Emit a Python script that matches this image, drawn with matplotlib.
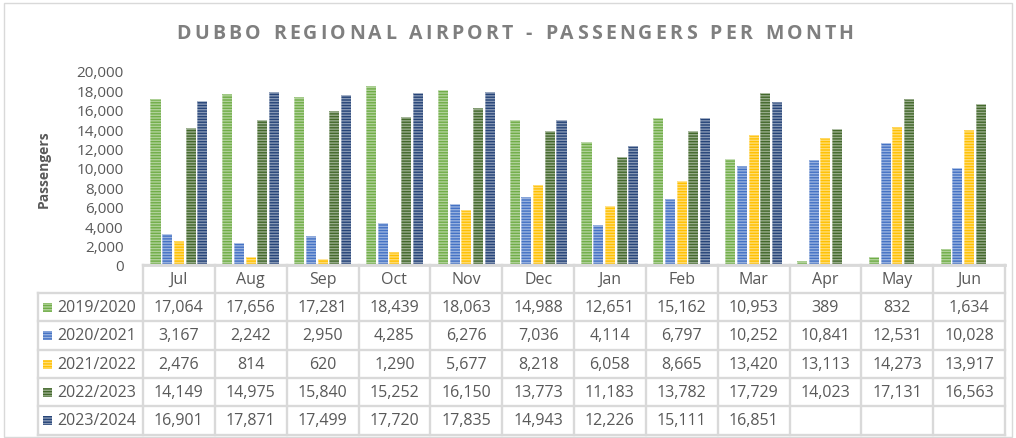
import numpy as np
import matplotlib
matplotlib.use("Agg")
import matplotlib.pyplot as plt
from matplotlib.lines import Line2D
from matplotlib.patches import Rectangle

months = ["Jul", "Aug", "Sep", "Oct", "Nov", "Dec", "Jan", "Feb", "Mar", "Apr", "May", "Jun"]
series_names = ["2019/2020", "2020/2021", "2021/2022", "2022/2023", "2023/2024"]
s2019 = [17064, 17656, 17281, 18439, 18063, 14988, 12651, 15162, 10953, 389, 832, 1634]
s2020 = [3167, 2242, 2950, 4285, 6276, 7036, 4114, 6797, 10252, 10841, 12531, 10028]
s2021 = [2476, 814, 620, 1290, 5677, 8218, 6058, 8665, 13420, 13113, 14273, 13917]
s2022 = [14149, 14975, 15840, 15252, 16150, 13773, 11183, 13782, 17729, 14023, 17131, 16563]
s2023 = [16901, 17871, 17499, 17720, 17835, 14943, 12226, 15111, 16851, None, None, None]
series = [s2019, s2020, s2021, s2022, s2023]
colors = ["#70AD47", "#4472C4", "#FFC000", "#43682B", "#264478"]
yticks = [0, 2000, 4000, 6000, 8000, 10000, 12000, 14000, 16000, 18000, 20000]

W, H = 1016, 439
plt.rcParams['hatch.linewidth'] = 1.0
fig = plt.figure(figsize=(W / 100, H / 100), dpi=100)
fig.patch.set_facecolor("white")

def fx(px):
    return px / W

def fy(py):
    return 1 - py / H

x_left, x_right = 143, 1005
y_top, y_bot = 72, 266
ax = fig.add_axes([fx(x_left), fy(y_bot), fx(x_right - x_left), (y_bot - y_top) / H])
ax.set_xlim(-0.5, len(months) - 0.5)
ax.set_ylim(0, 20000)

pitch = 0.163
bw = 0.14
xs = np.arange(len(months))
for k, (vals, c) in enumerate(zip(series, colors)):
    idx = [i for i, v in enumerate(vals) if v is not None]
    xv = xs[idx] + (k - 2) * pitch
    hv = [vals[i] for i in idx]
    ax.bar(xv, hv, bw, color=c, linewidth=0, zorder=2)
    ax.bar(xv, hv, bw, facecolor="none", edgecolor=(1, 1, 1, 0.45),
           hatch="------", linewidth=0, zorder=3)
    ax.bar(xv, hv, bw, facecolor="none", edgecolor=(1, 1, 1, 0.35),
           linewidth=0.7, zorder=4)

for s in ["top", "right", "left"]:
    ax.spines[s].set_visible(False)
ax.spines["bottom"].set_color("#D9D9D9")
ax.spines["bottom"].set_linewidth(2)
ax.set_xticks([])
ax.set_yticks(yticks)
ax.set_yticklabels([f"{t:,}" for t in yticks], fontsize=11, color="#595959",
                   family="Open Sans")
ax.tick_params(axis="y", length=0, pad=14)
ax.set_ylabel("Passengers", fontsize=10, fontweight="bold", color="#595959",
              family="Open Sans", labelpad=18)

# Table
grid_c = "#D9D9D9"
col_w = (x_right - x_left) / len(months)
row_y = [266, 294, 322, 351, 379, 407, 436]
leg_left = 38

def hline(x0, x1, y):
    fig.add_artist(Line2D([fx(x0), fx(x1)], [fy(y), fy(y)], color=grid_c, lw=1.7,
                          transform=fig.transFigure))

def vline(x, y0, y1):
    fig.add_artist(Line2D([fx(x), fx(x)], [fy(y0), fy(y1)], color=grid_c, lw=1.7,
                          transform=fig.transFigure))

hline(x_left, x_right, row_y[0])
for y in row_y[1:]:
    hline(leg_left, x_right, y)
vline(leg_left, row_y[1], row_y[-1])
for i in range(len(months) + 1):
    vline(x_left + i * col_w, row_y[0], row_y[-1])

tkw = dict(fontsize=11.5, color="#595959", family="Open Sans", va="center",
           transform=fig.transFigure)
for i, m in enumerate(months):
    fig.text(fx(x_left + (i + 0.5) * col_w), fy((row_y[0] + row_y[1]) / 2), m,
             ha="center", **tkw)
for r, (name, vals, c) in enumerate(zip(series_names, series, colors)):
    yc = (row_y[r + 1] + row_y[r + 2]) / 2
    sq = 9
    fig.add_artist(Rectangle((fx(43), fy(yc + sq / 2)), fx(sq), sq / H,
                             facecolor=c, edgecolor="none", transform=fig.transFigure))
    fig.add_artist(Rectangle((fx(43), fy(yc + sq / 2)), fx(sq), sq / H,
                             facecolor="none", edgecolor=(1, 1, 1, 0.45), hatch="------",
                             linewidth=0, transform=fig.transFigure))
    fig.text(fx(57), fy(yc), name, ha="left", **tkw)
    for i, v in enumerate(vals):
        if v is not None:
            fig.text(fx(x_left + (i + 0.5) * col_w), fy(yc), f"{v:,}", ha="center", **tkw)

# Title with letter spacing
title = "DUBBO REGIONAL AIRPORT - PASSENGERS PER MONTH"
renderer = fig.canvas.get_renderer()
tprops = dict(fontsize=14, fontweight="bold", color="#7F7F7F", family="Open Sans",
              va="center", ha="left", transform=fig.transFigure)
spacing = 3.2
widths = []
for ch in title:
    t = fig.text(0, 0, ch if ch != " " else "a", **tprops)
    bb = t.get_window_extent(renderer)
    widths.append(bb.width if ch != " " else bb.width * 0.55)
    t.remove()
total = sum(widths) + spacing * (len(title) - 1)
x0 = 515 - total / 2
for ch, w in zip(title, widths):
    if ch != " ":
        fig.text(fx(x0), fy(34), ch, **tprops)
    x0 += w + spacing

# outer border
fig.add_artist(Rectangle((fx(4), fy(438)), fx(1008), 434 / H, facecolor="none",
                         edgecolor="#D9D9D9", lw=1, transform=fig.transFigure))

fig.savefig("out.png", dpi=100, facecolor="white")
